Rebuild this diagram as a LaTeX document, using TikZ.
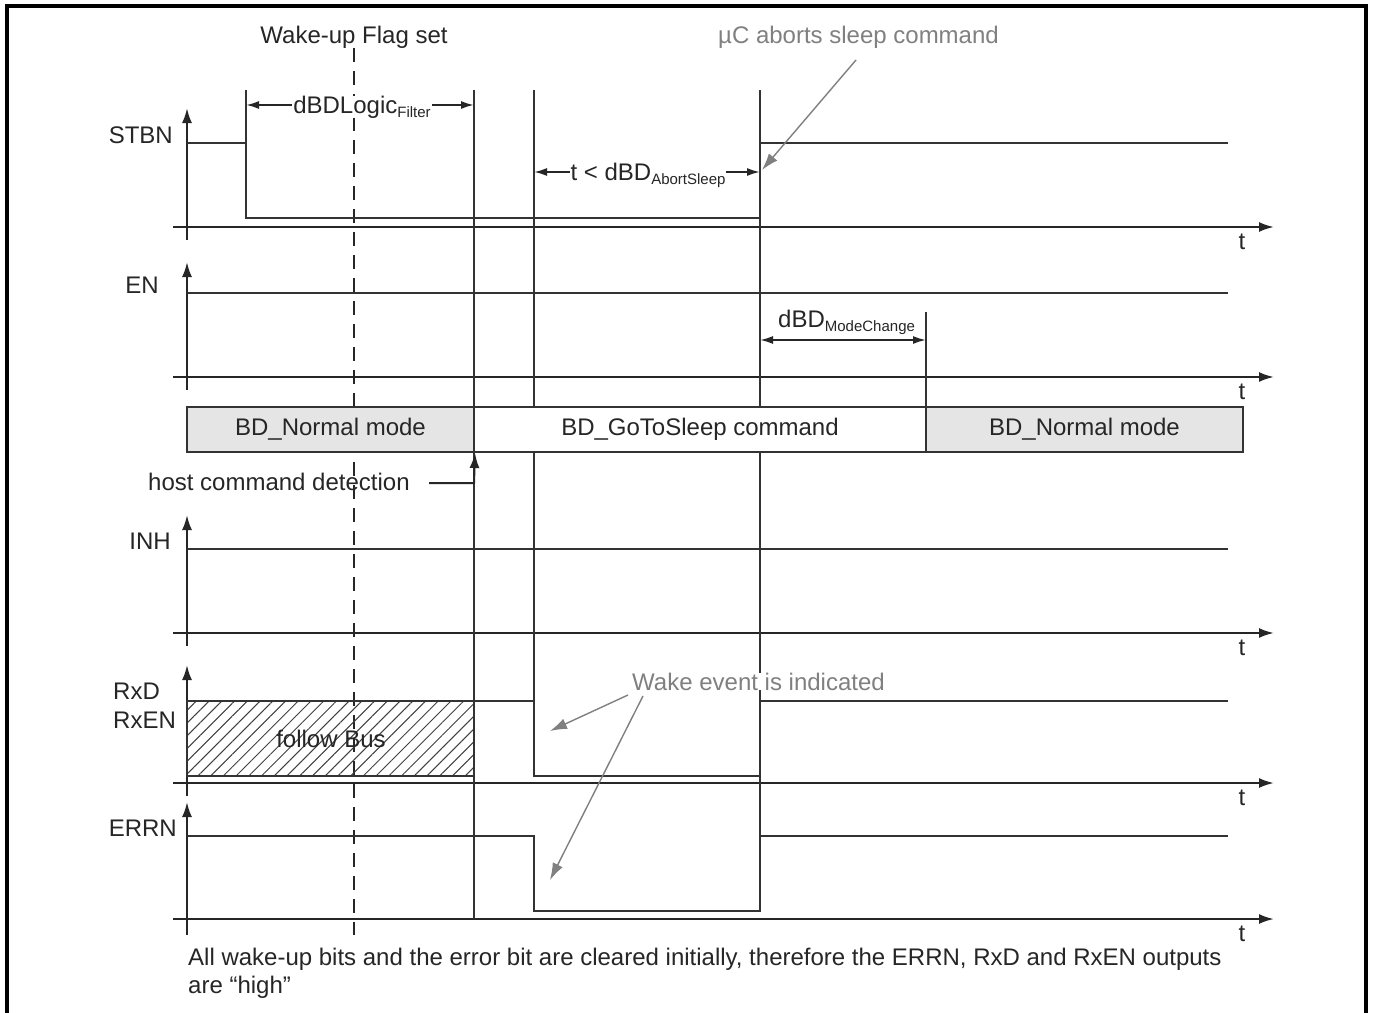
\documentclass[tikz,border=0pt]{standalone}
\usepackage{fontspec}
\setmainfont{Liberation Sans}
\usetikzlibrary{arrows.meta,patterns.meta}
\newcommand\mysub[1]{\raisebox{-4pt}{\fontsize{15}{15}\selectfont #1}}
\begin{document}
\begin{tikzpicture}[x=1pt,y=-1pt,
  every node/.style={inner sep=0pt, font=\fontsize{24}{28}\selectfont, text=black!85},
  sig/.style={draw=black!80, line width=2.2pt},
  ax/.style={draw=black!85, line width=2.2pt, -{Latex[length=15pt,width=10pt]}},
  dim/.style={draw=black!85, line width=1.8pt, {Latex[length=13pt,width=8pt]}-{Latex[length=13pt,width=8pt]}},
  note/.style={text=black!50},
  notearrow/.style={draw=black!50, line width=1.4pt, -{Latex[length=17pt,width=11pt]}},
  mode/.style={draw=black!80, line width=2pt, minimum height=45pt},
  flagline/.style={draw=black!85, line width=2.2pt, dash pattern=on 14pt off 9pt},
]
\fill[white] (0,0) rectangle (1373,1012);
\useasboundingbox (0,0) rectangle (1373,1012);
% frame
\draw[line width=3.5pt] (7,1014) -- (7,6) -- (1366,6) -- (1366,1014);

% wake-up flag dashed line
\coordinate (flagTop) at (354,48);
\coordinate (flagBot) at (354,935);
\draw[flagline] (flagTop) -- (flagBot);

% axes
\foreach \ay/\ty/\by [count=\i] in {227/108/240, 377/262/390, 633/515/646, 783/665/796, 919/802/935} {
  \draw[ax] (187,\by) -- (187,\ty);
  \draw[ax] (173,\ay) -- (1274,\ay);
  \node (t\i) at (1242,\ay+15) {t};
}

% event lines
\draw[sig] (246,90) -- (246,143);
\draw[sig] (474,90) -- (474,919);
\draw[sig] (534,90) -- (534,701);
\draw[sig] (760,90) -- (760,911);
\draw[sig] (926,312) -- (926,452);

% signals
\draw[sig] (187,143) -- (246,143) -- (246,218) -- (760,218) -- (760,143) -- (1228,143);
\draw[sig] (187,293) -- (1228,293);
\draw[sig] (187,549) -- (1228,549);
\draw[sig] (474,701) -- (534,701) -- (534,776) -- (760,776) -- (760,701) -- (1228,701);
\draw[sig] (187,836) -- (534,836) -- (534,911) -- (760,911) -- (760,836) -- (1228,836);

% hatched region
\draw[draw=black!80, line width=1.6pt, pattern={Lines[angle=45,distance=9pt,line width=1pt]}, pattern color=black!75] (187,701) rectangle (474,776);
\node (follow) at (331,739) {follow Bus};

% mode boxes
\node[mode, fill=gray!20, minimum width=287pt] (m1) at (330.5,429.5) {BD\_Normal mode};
\node[mode, fill=white, minimum width=452pt] (m2) at (700,429.5) {BD\_GoToSleep command};
\node[mode, fill=gray!20, minimum width=317pt] (m3) at (1084.5,429.5) {BD\_Normal mode};

% signal labels
\node[anchor=east] (stbnL) at (173,135) {STBN};
\node[anchor=east] (enL) at (159,285) {EN};
\node[anchor=east] (inhL) at (171,541) {INH};
\node[anchor=west] (rxdL) at (113,691) {RxD};
\node[anchor=west] (rxenL) at (113,720) {RxEN};
\node[anchor=east] (errnL) at (177,828) {ERRN};

% dimension arrows
\coordinate (d1a) at (246,105); \coordinate (d1b) at (474,105);
\draw[dim] (d1a) -- (d1b);
\node[fill=white, inner xsep=1pt, anchor=base] (d1t) at (362,113) {dBDLogic\mysub{Filter}};
\coordinate (d2a) at (534,172); \coordinate (d2b) at (760,172);
\draw[dim] (d2a) -- (d2b);
\node[fill=white, inner xsep=1pt, anchor=base] (d2t) at (648,180) {t < dBD\mysub{AbortSleep}};
\coordinate (d3a) at (760,340); \coordinate (d3b) at (926,340);
\draw[dim] (d3a) -- (d3b);
\node[anchor=base west] (d3t) at (778,327) {dBD\mysub{ModeChange}};

% annotations
\node[anchor=base] (flag) at (354,43) {Wake-up Flag set};
\node[note, anchor=base west] (abort) at (718,43) {µC aborts sleep command};
\coordinate (abS) at (856,60); \coordinate (abE) at (762,170);
\draw[notearrow] (abS) -- (abE);

\node[note, fill=white, inner xsep=1pt, anchor=base west] (wake) at (631,690) {Wake event is indicated};
\coordinate (w1S) at (628,695); \coordinate (w1E) at (550,731);
\coordinate (w2S) at (643,696); \coordinate (w2E) at (550,880);
\draw[notearrow] (w1S) -- (w1E);
\draw[notearrow] (w2S) -- (w2E);

\node[anchor=base west] (host) at (148,490) {host command detection};
\coordinate (hS) at (429,483); \coordinate (hC) at (474,483);
\draw[draw=black!85, line width=2pt, -{Latex[length=15pt,width=10pt]}] (hS) -- (hC) -- (m1.south east);

% footer
\node[anchor=base west] (foot1) at (188,965) {All wake-up bits and the error bit are cleared initially, therefore the ERRN, RxD and RxEN outputs};
\node[anchor=base west] (foot2) at (188,993) {are “high”};
\end{tikzpicture}
\end{document}
